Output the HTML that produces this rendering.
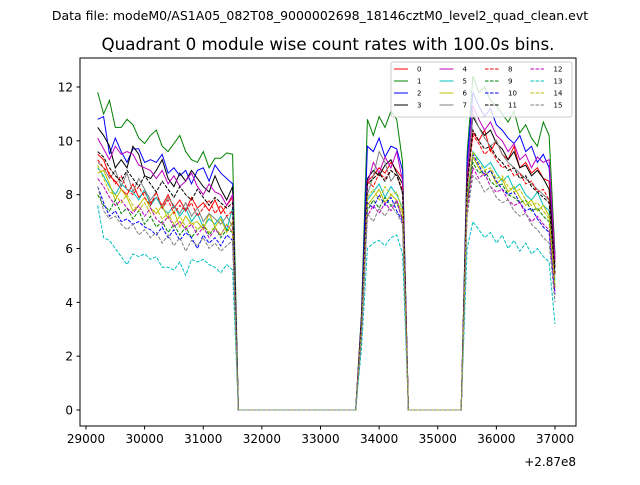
<!DOCTYPE html>
<html><head><meta charset="utf-8"><style>
body{margin:0;background:#fff;font-family:"Liberation Sans","DejaVu Sans",sans-serif}
svg text{font-family:"DejaVu Sans","Liberation Sans",sans-serif}
</style></head><body>
<svg id="c" width="640" height="480" xmlns="http://www.w3.org/2000/svg">
<text x="320" y="20" font-size="12.5" text-anchor="middle">Data file: modeM0/AS1A05_082T08_9000002698_18146cztM0_level2_quad_clean.evt</text>
<text x="328" y="50" font-size="16.7" text-anchor="middle">Quadrant 0 module wise count rates with 100.0s bins.</text>
<g id="plot"></g>
<rect x="80" y="58" width="496" height="368" fill="none" stroke="#000" stroke-width="1"/>
<g id="axes"></g>
<text x="576" y="466" font-size="12" text-anchor="end">+2.87e8</text>
<g id="legend"></g>
</svg>
<script>
const xTicks=[29000,30000,31000,32000,33000,34000,35000,36000,37000];
const yTicks=[0,2,4,6,8,10,12];
const labels=["0","1","2","3","4","5","6","7","8","9","10","11","12","13","14","15"];
const segA=[
[9.5,9.3,8.7,8.5,8.2,8.0,8.4,7.9,8.1,7.7,7.9,7.6,8.0,7.5,7.8,7.4,7.9,7.5,7.7,7.4,7.8,7.3,7.6,7.9],
[11.8,11.0,11.5,10.5,10.5,10.8,10.6,10.1,9.9,10.2,10.4,9.8,9.6,9.9,10.2,9.6,9.3,9.2,9.6,9.0,9.35,9.35,9.55,9.5],
[10.8,10.9,9.5,10.1,9.6,9.2,9.7,9.7,9.2,9.3,9.2,9.5,8.8,9.0,8.7,8.9,8.4,8.9,9.0,8.5,9.1,8.8,8.6,8.4],
[10.5,10.2,9.8,9.0,9.3,9.0,9.8,9.5,8.7,8.6,8.9,9.3,8.6,8.3,8.8,8.5,8.9,8.6,8.3,8.1,8.7,8.2,7.8,8.3],
[10.1,9.7,9.3,9.8,9.5,9.6,9.5,9.1,9.0,8.9,8.6,8.9,8.4,8.7,8.3,8.5,8.8,8.3,8.0,8.4,8.1,8.0,7.6,8.0],
[9.0,8.7,8.3,8.0,8.4,8.2,8.1,7.8,8.2,7.6,7.9,7.5,7.3,7.6,7.2,7.5,7.0,7.3,6.8,7.1,6.9,7.2,6.7,7.5],
[8.8,8.9,8.4,7.8,8.2,7.9,7.4,7.6,7.9,7.5,7.3,7.6,7.1,7.4,6.8,7.2,6.9,7.0,6.7,7.3,6.8,7.1,6.6,7.0],
[9.2,9.0,8.6,8.9,8.3,8.8,8.1,8.6,8.2,7.8,8.1,7.5,7.9,7.6,7.3,7.7,7.2,7.5,7.0,7.3,7.1,6.9,7.2,6.8],
[9.3,9.0,8.8,8.4,8.7,8.2,8.0,8.3,7.9,7.6,8.1,7.5,7.8,7.3,7.6,7.4,7.7,7.2,7.5,7.8,7.3,7.6,7.2,7.4],
[8.0,7.6,7.4,7.8,7.3,7.5,7.1,7.4,6.9,7.2,6.8,7.0,6.6,6.9,6.5,6.8,6.4,6.7,6.9,6.5,6.8,6.4,6.7,6.6],
[8.3,7.7,7.2,7.4,7.0,7.1,6.9,7.0,6.8,6.7,6.5,6.8,6.4,6.7,6.3,6.6,6.4,6.0,6.5,6.2,6.4,6.1,6.5,6.3],
[9.6,9.4,9.0,8.7,8.5,8.9,8.6,8.3,8.7,8.4,8.1,8.5,8.2,7.9,8.3,8.0,7.8,8.2,7.9,7.6,7.9,7.7,7.5,7.7],
[8.6,8.3,7.9,7.6,7.8,7.5,7.3,7.6,7.2,7.5,7.1,6.9,7.2,6.8,7.0,6.7,6.9,6.5,6.8,6.4,6.7,6.5,6.9,6.6],
[7.6,6.4,6.3,6.0,5.7,5.4,5.8,5.7,5.8,5.6,5.7,5.3,5.3,5.2,5.5,5.0,5.6,5.5,5.6,5.4,5.3,5.1,5.4,5.2],
[9.1,8.6,8.1,8.0,7.7,8.0,7.6,7.4,7.7,7.3,7.5,7.1,7.3,6.9,7.2,6.8,7.0,6.7,6.9,6.6,6.8,6.5,6.9,6.6],
[8.3,7.4,7.1,7.2,6.9,6.7,6.9,6.5,6.7,6.4,6.6,6.2,6.5,6.1,6.4,5.9,6.3,6.1,6.4,6.0,6.2,5.9,6.1,6.3]];
const segB=[
[3.3,8.5,8.7,9.0,8.8,9.2,8.9,8.6],[3.6,10.8,10.2,10.9,10.5,11.1,10.8,9.2],
[3.5,9.8,9.6,10.1,9.4,9.8,9.7,8.9],[3.4,8.6,8.9,8.7,9.1,9.3,8.8,8.4],
[3.3,8.4,9.2,8.8,9.4,9.0,9.6,8.5],[3.0,7.8,8.1,8.4,7.9,8.3,8.0,7.5],
[2.9,7.6,7.9,8.2,7.7,8.0,7.8,7.3],[3.1,8.0,8.7,9.6,9.2,8.5,8.8,8.0],
[3.2,8.5,8.3,8.8,8.6,8.9,8.7,8.2],[2.8,7.4,7.8,7.5,7.9,7.6,7.7,7.1],
[2.9,7.7,7.5,8.0,7.6,7.9,7.4,7.0],[3.2,8.4,8.6,8.8,8.5,8.9,8.7,8.1],
[2.8,7.2,7.6,7.3,7.7,7.4,7.8,7.0],[2.3,6.0,6.2,6.3,6.1,6.4,6.5,5.8],
[3.0,7.9,8.2,7.8,8.3,8.0,8.1,7.4],[2.7,7.3,7.0,7.5,7.2,7.6,7.3,6.9]];
const segC=[
[8.5,10.3,10.0,10.4,9.6,10.0,9.5,9.3,9.8,9.0,9.2,8.8,9.0,8.6,8.5,5.5],
[9.5,12.4,11.8,12.0,11.5,11.3,11.0,10.7,11.1,10.3,10.6,10.1,9.8,10.7,10.2,5.8],
[9.2,11.8,11.3,10.9,11.2,10.6,10.4,10.1,9.9,10.2,9.6,9.8,9.2,9.5,9.0,5.6],
[8.8,10.9,10.5,10.2,10.4,9.9,9.7,9.3,9.6,9.0,9.1,8.7,8.9,8.6,8.2,5.3],
[8.7,11.3,10.8,10.4,10.7,10.2,10.0,9.6,9.9,9.3,9.5,9.0,9.4,9.2,9.3,5.6],
[7.9,9.6,9.3,9.0,9.2,8.8,8.5,8.7,8.2,8.4,8.0,7.8,8.1,7.6,7.4,4.8],
[7.7,9.4,9.0,8.7,8.9,8.4,8.6,8.1,8.3,7.9,7.6,7.8,7.4,7.6,7.2,4.6],
[8.1,11.0,10.5,10.1,9.8,10.0,9.5,9.2,9.0,8.8,8.6,8.4,8.2,8.0,7.8,5.0],
[8.3,10.2,9.9,9.5,9.7,9.3,9.0,9.1,8.7,8.8,8.4,8.5,8.1,8.2,7.8,5.0],
[7.6,9.2,8.8,8.9,8.5,8.3,8.4,8.0,7.9,7.7,7.8,7.4,7.5,7.2,7.0,4.5],
[7.8,9.5,9.1,8.7,8.9,8.5,8.2,8.0,8.1,7.7,7.4,7.5,7.1,6.8,6.6,4.3],
[8.4,10.4,10.0,9.7,9.8,9.4,9.2,8.9,9.0,8.6,8.7,8.3,8.1,7.9,7.7,5.1],
[7.4,9.0,8.6,8.8,8.3,8.1,8.2,7.8,7.6,7.7,7.3,7.0,7.2,6.9,6.7,4.4],
[6.0,7.0,6.7,6.4,6.6,6.2,6.5,6.0,6.3,5.9,6.2,5.8,6.0,5.7,5.5,3.2],
[7.9,9.6,9.2,8.9,9.0,8.6,8.7,8.3,8.1,8.2,7.8,7.6,7.7,7.4,7.1,4.6],
[7.2,8.7,8.5,8.1,8.3,7.9,7.7,7.8,7.4,7.2,7.3,6.9,6.7,6.4,6.2,4.0]];
const gap1=new Array(21).fill(0), gap2=new Array(10).fill(0);
const t0=29200, dt=100;
const colors=["#ff0000","#008000","#0000ff","#000000","#bf00bf","#00bfbf","#bfbf00","#808080"];
const NS="http://www.w3.org/2000/svg";
const X=v=>86+(v-29000)*469/8000;
const Y=v=>410-v*323/12;
const plot=document.getElementById('plot'), axes=document.getElementById('axes'), leg=document.getElementById('legend');
function mk(tag,attrs,parent){const e=document.createElementNS(NS,tag);for(const k in attrs)e.setAttribute(k,attrs[k]);parent.appendChild(e);return e;}
for(let i=0;i<16;i++){
  const vals=segA[i].concat(gap1,segB[i],gap2,segC[i]);
  const pts=vals.map((v,j)=>X(t0+j*dt).toFixed(1)+","+Y(v).toFixed(1)).join(" ");
  const p=mk('polyline',{points:pts,fill:"none",stroke:colors[i%8],"stroke-width":1,"stroke-dasharray":i>=8?"3.5,1.5":"none"},plot);
  
  
}
xTicks.forEach(t=>{
  const x=X(t);
  const l=mk('line',{x1:x,x2:x,y1:426,y2:429.5,stroke:"#000"},axes);
  
  
  const tx=mk('text',{x:x,y:443,"font-size":12,"text-anchor":"middle"},axes);tx.textContent=t;
  
  
});
yTicks.forEach(t=>{
  const y=Y(t);
  const l=mk('line',{x1:76.5,x2:80,y1:y,y2:y,stroke:"#000"},axes);
  
  
  const tx=mk('text',{x:73,y:y+4.5,"font-size":12,"text-anchor":"end"},axes);tx.textContent=t;
  
  
});
const box=mk('rect',{x:391,y:62,width:181,height:55,rx:2,fill:"#fff","fill-opacity":0.8,stroke:"#ccc","stroke-width":1},leg);


for(let i=0;i<16;i++){
  const col=Math.floor(i/4), row=i%4;
  const x=394+col*45.5, y=69+row*12;
  const l=mk('line',{x1:x,x2:x+14,y1:y,y2:y,stroke:colors[i%8],"stroke-width":1,"stroke-dasharray":i>=8?"3.5,1.5":"none"},leg);
  
  
  const tx=mk('text',{x:x+23,y:y+2.5,"font-size":7},leg);tx.textContent=labels[i];
  
  
}
</script>
</body></html>
